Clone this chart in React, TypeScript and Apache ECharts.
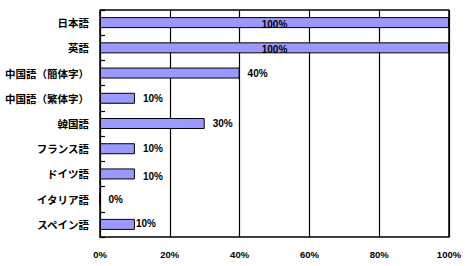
import React, { useEffect, useRef } from "react";
import * as echarts from "echarts";

const categories = [
  "日本語",
  "英語",
  "中国語（簡体字）",
  "中国語（繁体字）",
  "韓国語",
  "フランス語",
  "ドイツ語",
  "イタリア語",
  "スペイン語",
];
const values = [100, 100, 40, 10, 30, 10, 10, 0, 10];
const xTicks = [0, 20, 40, 60, 80, 100];

export default function App() {
  const ref = useRef<HTMLDivElement>(null);
  useEffect(() => {
    if (!ref.current) return;
    const chart = echarts.init(ref.current, null, { renderer: "svg" });
    const data = values.map((v, i) => {
      const item: any = { value: v };
      if (v >= 100) {
        item.label = { position: "inside", offset: [0, 2] };
      } else if (i === categories.length - 1) {
        item.label = { distance: 1, offset: [0, -1] };
      } else if (i === 6) {
        item.label = { offset: [0, 3] };
      }
      return item;
    });
    chart.setOption({
      animation: false,
      grid: { left: 100, right: 18, top: 10, bottom: 29, containLabel: false },
      xAxis: {
        type: "value",
        min: xTicks[0],
        max: xTicks[xTicks.length - 1],
        interval: 20,
        axisLine: { show: true, lineStyle: { color: "#000", width: 1.5 } },
        axisTick: { show: false },
        splitLine: { show: true, lineStyle: { color: "#000", width: 1.2 } },
        axisLabel: {
          formatter: "{value}%",
          color: "#000",
          fontSize: 9.5,
          fontWeight: "bold",
          fontFamily: "Liberation Sans, Arial, sans-serif",
          margin: 12,
        },
      },
      yAxis: {
        type: "category",
        data: categories,
        inverse: true,
        axisLine: { show: true, lineStyle: { color: "#000", width: 1.5 } },
        axisTick: { show: true, inside: true, length: 5, lineStyle: { color: "#000", width: 1.2 } },
        axisLabel: {
          color: "#000",
          fontSize: 10.5,
          fontWeight: "bold",
          fontFamily: "Noto Sans CJK JP, sans-serif",
          margin: 11,
        },
      },
      series: [
        {
          type: "bar",
          data,
          barWidth: 11,
          itemStyle: { color: "#9999FF", borderColor: "#000", borderWidth: 1 },
          label: {
            show: true,
            position: "right",
            distance: 8,
            formatter: "{c}%",
            color: "#000",
            fontSize: 10,
            fontWeight: "bold",
            fontFamily: "Liberation Sans, Arial, sans-serif",
          },
        },
      ],
      graphic: [
        {
          type: "line",
          shape: { x1: 100, y1: 10, x2: 449, y2: 10 },
          style: { stroke: "#000", lineWidth: 1.5 },
        },
        {
          type: "line",
          shape: { x1: 449, y1: 10, x2: 449, y2: 237 },
          style: { stroke: "#000", lineWidth: 1.5 },
        },
      ],
    });
    return () => chart.dispose();
  }, []);
  return <div ref={ref} style={{ width: 467, height: 266, position: "absolute", left: 0, top: 0, background: "#fff" }} />;
}
